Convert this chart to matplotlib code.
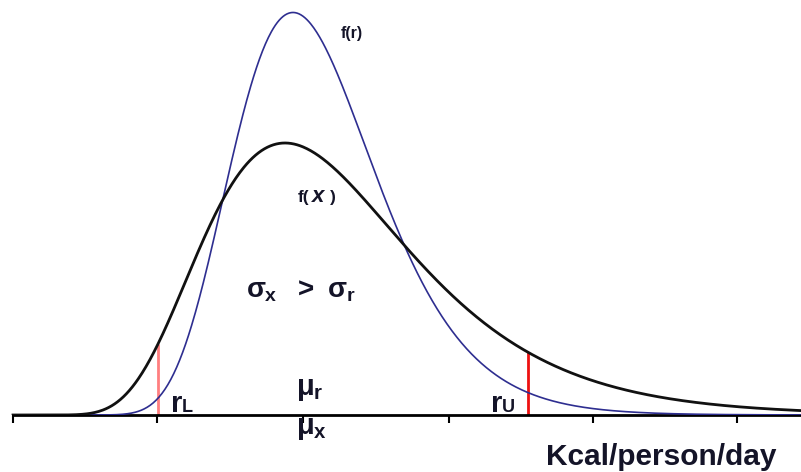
import numpy as np
import matplotlib
matplotlib.use("Agg")
import matplotlib.pyplot as plt

# ---- data (x in axis units, lognormal shapes) ----
intake_mode = 285.0      # mode of f(x)
intake_sigma = 0.36      # log-scale spread of f(x)
req_mode = 293.0         # mode of f(r)
req_sigma = 0.245        # log-scale spread of f(r)
r_limits = [158.0, 528.0]            # r_L, r_U
tick_positions = [13, 157, 303, 449, 593, 737]
x_range = [13.0, 801.0]

plt.rcParams["mathtext.fontset"] = "custom"
plt.rcParams["mathtext.rm"] = "Liberation Sans:bold"
plt.rcParams["mathtext.it"] = "Liberation Sans:bold"
plt.rcParams["mathtext.bf"] = "Liberation Sans:bold:italic"
plt.rcParams["font.family"] = ["Liberation Sans", "DejaVu Sans"]


def lognorm_pdf(x, mode, s):
    mu = np.log(mode) + s ** 2
    return np.exp(-(np.log(x) - mu) ** 2 / (2 * s ** 2)) / (x * s * np.sqrt(2 * np.pi))


W, H = 801, 472
fig = plt.figure(figsize=(W / 100, H / 100), dpi=100)
base_px = 415
ax = fig.add_axes([0, (H - base_px) / H, 1, base_px / H])

xs = np.linspace(x_range[0], x_range[1], 800)
fx = lognorm_pdf(xs, intake_mode, intake_sigma)
fr = lognorm_pdf(xs, req_mode, req_sigma)
peak_x = lognorm_pdf(intake_mode, intake_mode, intake_sigma)
ymax = peak_x * base_px / 272.0

ax.plot(xs, fr, color="#2e2e90", lw=1.2, zorder=3)
ax.plot(xs, fx, color="#111111", lw=2.0, zorder=3)

rl, ru = r_limits
ax.vlines(rl, 0, lognorm_pdf(rl, intake_mode, intake_sigma), color="#ff7f80", lw=2, zorder=2)
ax.vlines(ru, 0, lognorm_pdf(ru, intake_mode, intake_sigma), color="#ee1111", lw=2, zorder=2)

ax.set_xlim(0, W)
ax.set_ylim(0, ymax)
for s in ["top", "right", "left"]:
    ax.spines[s].set_visible(False)
ax.spines["bottom"].set_bounds(x_range[0], x_range[1])
ax.spines["bottom"].set_linewidth(2)
ax.set_xticks(tick_positions)
ax.set_xticklabels([])
ax.tick_params(axis="x", direction="out", length=6, width=1.5)
ax.set_yticks([])
ax.patch.set_alpha(0)


def ftext(px, py, s, size, style="normal"):
    fig.text(px / W, 1 - py / H, s, fontsize=size, color="#141428",
             fontweight="bold", fontstyle=style, va="baseline", ha="left")


ftext(341, 38, "f(r)", 11.5)
ftext(298, 202, "f(", 12.5)
ftext(312, 202, "x", 16, style="italic")
ftext(330, 202, ")", 12.5)
ftext(246, 298, r"$\sigma_x\ \ >\ \sigma_r$", 20)
ftext(296, 395, r"$\mu_r$", 21)
ftext(296, 434, r"$\mu_x$", 21)
ftext(171, 412, "r", 21)
ftext(182, 412, "L", 13)
ftext(491, 412, "r", 21)
ftext(502, 412, "U", 13)
ftext(546, 465, "Kcal/person/day", 21.5)

fig.savefig("out.png", dpi=100)
